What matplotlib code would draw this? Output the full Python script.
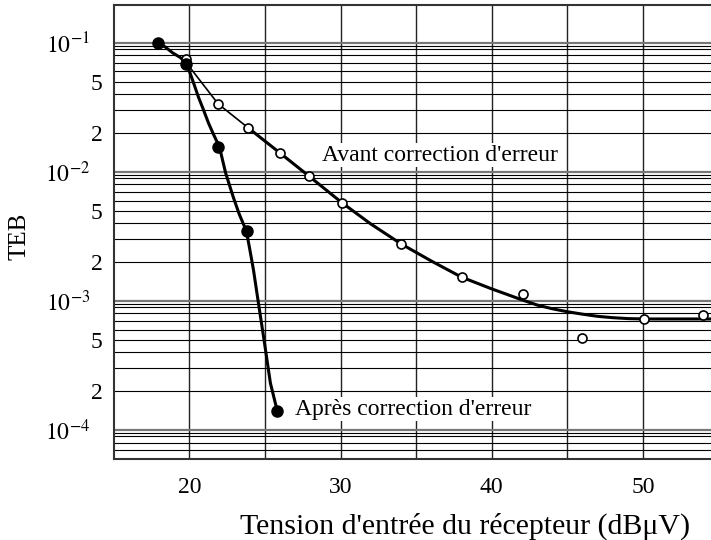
import numpy as np
import matplotlib
matplotlib.use('Agg')
import matplotlib.pyplot as plt
from matplotlib.ticker import FixedLocator, FuncFormatter

plt.rcParams['font.family'] = ['Liberation Serif', 'DejaVu Serif']
plt.rcParams['mathtext.fontset'] = 'stix'

# measured points
apres_x = [17.9, 19.8, 21.9, 23.8, 25.8]
apres_y = [0.1, 0.068, 0.0156, 3.5e-3, 1.4e-4]
avant_x = [19.8, 21.9, 23.9, 26.0, 27.9, 30.1, 34.0, 38.0, 42.05, 46.0, 50.1, 54.0]
avant_y = [0.075, 0.0337, 0.0219, 0.0140, 9.3e-3, 5.76e-3, 2.77e-3, 1.53e-3,
           1.13e-3, 5.2e-4, 7.25e-4, 7.8e-4]

# hand-drawn fitted curves
apres_cx = [17.9, 18.4, 18.9, 19.4, 19.8, 20.2, 20.6, 20.9, 21.26, 21.6, 21.99, 22.4,
            22.9, 23.3, 23.77, 24.0, 24.24, 24.57, 24.97, 25.36, 25.83]
apres_cy = [0.100, 0.093, 0.0836, 0.077, 0.070, 0.052, 0.038, 0.031, 0.024, 0.0195, 0.0156,
            0.0098, 6.4e-3, 4.7e-3, 3.49e-3, 2.5e-3, 1.74e-3, 9.6e-4, 4.72e-4, 2.31e-4, 1.38e-4]
avant_thin_x = [19.8, 21.9, 23.9]
avant_thin_y = [0.070, 0.0337, 0.0219]
avant_cx = [23.9, 26.0, 27.9, 30.1, 32.0, 34.0, 36.0, 38.0, 40.0, 42.0, 43.0, 44.0,
            45.0, 46.0, 47.0, 48.0, 49.0, 50.1, 54.5]
avant_cy = [0.0219, 0.0140, 9.3e-3, 5.76e-3, 3.95e-3, 2.77e-3, 2.04e-3, 1.53e-3, 1.24e-3,
            1.02e-3, 9.3e-4, 8.7e-4, 8.25e-4, 7.9e-4, 7.6e-4, 7.42e-4, 7.3e-4, 7.25e-4, 7.25e-4]

x_labels = [20, 30, 40, 50]
y_decades = [1e-1, 1e-2, 1e-3, 1e-4]

fig = plt.figure(figsize=(7.11, 5.4), dpi=100)
ax = fig.add_axes([0.160, 0.15, 0.840, 0.841])
ax.set_yscale('log')
ax.set_xlim(15, 54.5)
ax.set_ylim(5.96e-5, 0.197)

# grid
minor = []
for d in [1e-1, 1e-2, 1e-3, 1e-4, 1e-5]:
    for m in [2, 3, 4, 5, 6, 7, 8, 9, 9.5]:
        minor.append(m * d / 10)
ax.yaxis.set_major_locator(FixedLocator(y_decades))
ax.yaxis.set_minor_locator(FixedLocator(minor))
ax.yaxis.set_major_formatter(FuncFormatter(lambda v, p: r'$10^{%d}$' % round(np.log10(v))))
def minor_fmt(v, p):
    m = v / 10 ** np.floor(np.log10(v) + 1e-9)
    if abs(m - 5) < 1e-6:
        return '5'
    if abs(m - 2) < 1e-6:
        return '2'
    return ''
ax.yaxis.set_minor_formatter(FuncFormatter(minor_fmt))
ax.xaxis.set_major_locator(FixedLocator(x_labels))
ax.xaxis.set_minor_locator(FixedLocator([25, 35, 45]))
ax.xaxis.set_minor_formatter(FuncFormatter(lambda v, p: ''))

ax.grid(True, which='major', axis='y', color='#777777', lw=1.6)
ax.grid(True, which='minor', axis='y', color='black', lw=0.8)
ax.grid(True, which='both', axis='x', color='#222222', lw=1.0)
ax.tick_params(axis='both', which='both', length=0, labelsize=17)
ax.tick_params(axis='y', which='major', pad=17)
ax.tick_params(axis='y', which='minor', pad=8)
ax.tick_params(axis='x', pad=13)

for s in ['left', 'bottom', 'top']:
    ax.spines[s].set_color('#333333')
    ax.spines[s].set_linewidth(1.5)
ax.spines['right'].set_visible(False)

# curves
ax.plot(apres_cx, apres_cy, color='black', lw=2.2, zorder=3)
ax.plot(avant_thin_x, avant_thin_y, color='black', lw=1.2, zorder=3)
ax.plot(avant_cx, avant_cy, color='black', lw=2.2, zorder=3)

# points
ax.plot(avant_x, avant_y, 'o', ms=6.5, mfc='white', mec='black', mew=1.2, zorder=4, clip_on=False)
ax.plot(apres_x, apres_y, 'o', ms=8, color='black', zorder=5)

box = dict(facecolor='white', edgecolor='none', pad=1)
ax.text(28.8, 1.35e-2, "Avant correction d'erreur", fontsize=17, va='center', bbox=box, zorder=2)
ax.text(27.0, 1.45e-4, "Après correction d'erreur", fontsize=17, va='center', bbox=box, zorder=2)

ax.set_xlabel("Tension d'entrée du récepteur (dBμV)", fontsize=21.5)
ax.xaxis.set_label_coords(0.588, -0.118)
ax.set_ylabel('TEB', fontsize=18)
ax.yaxis.set_label_coords(-0.14, 0.49)

fig.savefig('out.png', dpi=100)
